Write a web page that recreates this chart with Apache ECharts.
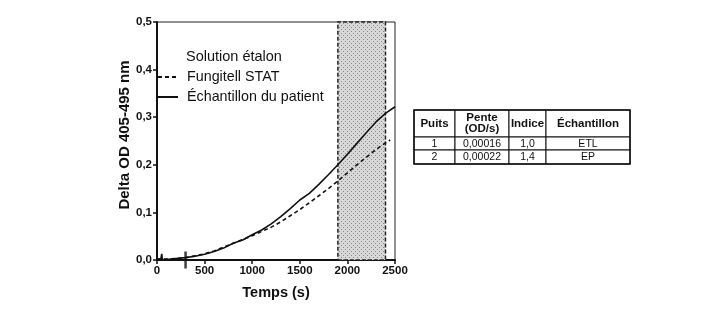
<!DOCTYPE html>
<html>
<head>
<meta charset="utf-8">
<script src="https://cdn.jsdelivr.net/npm/echarts@6/dist/echarts.min.js"></script>
<style>
  html, body { margin: 0; padding: 0; background: #fff; }
  #chart { width: 719px; height: 314px; }
</style>
</head>
<body>
<div id="chart"></div>
<script>
// data
const patientData = [
  [0, 0.002], [40, 0.002], [50, 0.013], [56, 0.001], [100, 0.001], [200, 0.003], [300, 0.005],
  [400, 0.008], [500, 0.012], [600, 0.018], [700, 0.025], [800, 0.035],
  [900, 0.042], [1000, 0.053], [1100, 0.063], [1200, 0.076], [1300, 0.091],
  [1400, 0.108], [1500, 0.126], [1600, 0.140], [1700, 0.159], [1800, 0.179],
  [1900, 0.200], [2000, 0.222], [2100, 0.245], [2200, 0.268], [2300, 0.290],
  [2400, 0.308], [2500, 0.322]
];
const standardData = [
  [0, 0.002], [100, 0.002], [200, 0.003], [300, 0.005], [400, 0.009],
  [500, 0.013], [600, 0.019], [700, 0.027], [800, 0.035], [900, 0.043],
  [1000, 0.051], [1100, 0.060], [1200, 0.069], [1300, 0.080], [1400, 0.093],
  [1500, 0.106], [1600, 0.120], [1700, 0.135], [1800, 0.150], [1900, 0.166],
  [2000, 0.183], [2100, 0.200], [2200, 0.216], [2300, 0.232], [2400, 0.246],
  [2450, 0.252]
];
const startMark = [[300, 0]];
const readWindow = [1900, 2400];

const legendTitle = 'Solution étalon';
const seriesNames = ['Fungitell STAT', 'Échantillon du patient'];

const tableHeader = ['Puits', 'Pente\n(OD/s)', 'Indice', 'Échantillon'];
const tableRows = [
  ['1', '0,00016', '1,0', 'ETL'],
  ['2', '0,00022', '1,4', 'EP']
];

const FONT = '"Liberation Sans", Arial, sans-serif';

// dotted fill for the reading window
const dots = document.createElement('canvas');
dots.width = 4; dots.height = 4;
const dctx = dots.getContext('2d');
dctx.fillStyle = '#d8d8d8';
dctx.fillRect(0, 0, 4, 4);
dctx.fillStyle = '#8a8a8a';
dctx.fillRect(1, 1, 1, 1);
dctx.fillRect(3, 3, 1, 1);

// table as graphic elements
const colX = [414, 455, 509, 546, 630];
const rowY = [110, 137, 150, 164];
const tableEls = [];
for (let c = 0; c < tableHeader.length; c++) {
  for (let r = 0; r < rowY.length - 1; r++) {
    const txt = r === 0 ? tableHeader[c] : tableRows[r - 1][c];
    tableEls.push({
      type: 'rect',
      shape: { x: colX[c], y: rowY[r], width: colX[c + 1] - colX[c], height: rowY[r + 1] - rowY[r] },
      style: { fill: '#fff', stroke: '#111', lineWidth: 1 }
    });
    tableEls.push({
      type: 'text',
      x: (colX[c] + colX[c + 1]) / 2,
      y: (rowY[r] + rowY[r + 1]) / 2 + (r === 0 ? 0 : 0.5),
      style: {
        text: txt,
        fill: '#111',
        font: r === 0 ? 'bold 11.5px ' + FONT : '10.5px ' + FONT,
        align: 'center',
        verticalAlign: 'middle',
        lineHeight: 11
      }
    });
  }
}
// thicker outer border
tableEls.push({
  type: 'rect',
  shape: { x: colX[0], y: rowY[0], width: colX[4] - colX[0], height: rowY[3] - rowY[0] },
  style: { fill: 'none', stroke: '#111', lineWidth: 1.5 }
});

const chart = echarts.init(document.getElementById('chart'));
chart.setOption({
  animation: false,
  textStyle: { fontFamily: FONT },
  grid: {
    left: 157, right: 324, top: 22, bottom: 54,
    show: true, borderColor: '#222', borderWidth: 1
  },
  legend: {
    left: 157, top: 70, orient: 'vertical', padding: 0,
    itemWidth: 20, itemHeight: 14, itemGap: 6,
    itemStyle: { opacity: 0, borderWidth: 0 },
    textStyle: { fontSize: 14.3, color: '#111', fontFamily: FONT, padding: [0, 0, 0, 4] },
    data: seriesNames
  },
  graphic: [
    {
      type: 'text', left: 186, top: 49,
      style: { text: legendTitle, font: '14.5px ' + FONT, fill: '#111' }
    }
  ].concat(tableEls),
  xAxis: {
    type: 'value', min: 0, max: 2500, interval: 500,
    name: 'Temps (s)', nameLocation: 'middle', nameGap: 25,
    nameTextStyle: { fontWeight: 'bold', fontSize: 14.5, color: '#111' },
    axisLine: { lineStyle: { color: '#111', width: 2 } },
    axisTick: { length: 4, lineStyle: { color: '#111', width: 1.5 } },
    axisLabel: {
      fontWeight: 'bold', fontSize: 11.5, color: '#111', margin: 5,
      formatter: (v) => String(v)
    },
    splitLine: { show: false }
  },
  yAxis: {
    type: 'value', min: 0, max: 0.5, interval: 0.1,
    name: 'Delta OD 405-495 nm', nameLocation: 'middle', nameGap: 25,
    nameTextStyle: { fontWeight: 'bold', fontSize: 15, color: '#111', padding: [0, 0, 0, 12] },
    axisLine: { show: true, lineStyle: { color: '#111', width: 2 } },
    axisTick: { show: true, length: 4, lineStyle: { color: '#111', width: 1.5 } },
    axisLabel: {
      fontWeight: 'bold', fontSize: 11.5, color: '#111', margin: 5,
      formatter: (v) => v.toFixed(1).replace('.', ',')
    },
    splitLine: { show: false }
  },
  series: [
    {
      name: seriesNames[0],
      type: 'line',
      data: standardData,
      symbol: 'none',
      lineStyle: { color: '#111', width: 1.6, type: [4, 3] },
      itemStyle: { color: '#111' },
      z: 3,
      markArea: {
        silent: true,
        itemStyle: {
          color: { image: dots, repeat: 'repeat' },
          borderColor: '#222', borderWidth: 1.5, borderType: [4, 2]
        },
        data: [[{ xAxis: readWindow[0], yAxis: 0 }, { xAxis: readWindow[1], yAxis: 0.5 }]]
      }
    },
    {
      name: seriesNames[1],
      type: 'line',
      data: patientData,
      symbol: 'none',
      lineStyle: { color: '#111', width: 1.6 },
      itemStyle: { color: '#111' },
      z: 4
    },
    {
      type: 'scatter',
      data: startMark,
      symbol: 'rect',
      symbolSize: [2.5, 17],
      itemStyle: { color: '#111' },
      clip: false,
      z: 5
    }
  ]
});
</script>
</body>
</html>
